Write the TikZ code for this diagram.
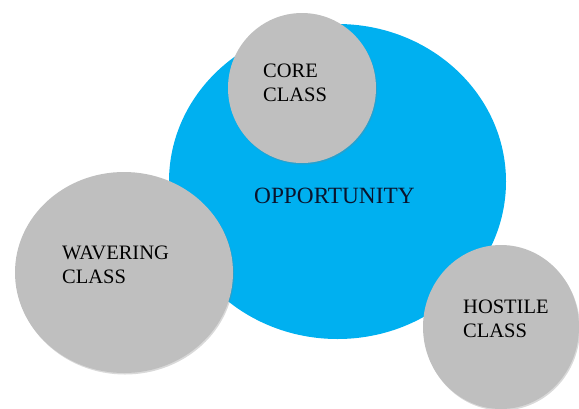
\documentclass[tikz,border=0pt]{standalone}
\usepackage{fontspec}
\setmainfont{Liberation Serif}
\usetikzlibrary{shapes.geometric, shadows}

\definecolor{oppblue}{RGB}{0,176,240}
\definecolor{discgray}{RGB}{191,191,191}
\definecolor{inkblue}{RGB}{10,20,45}

\begin{document}
\begin{tikzpicture}[x=1pt, y=-1pt,
    blob/.style={ellipse, draw=none, fill=#1, inner sep=0pt},
    graydisc/.style={blob=discgray, drop shadow={shadow xshift=1pt, shadow yshift=-1.5pt, opacity=0.3}},
    tag/.style={anchor=north west, inner sep=0pt, align=left, text=black,
        font=\fontsize{20.5}{24}\selectfont}]
    \useasboundingbox (0,0) rectangle (579,408);
    \clip (0,0) rectangle (579,408);
    % the big disc first, the classes on top
    \node[blob=oppblue, minimum width=337, minimum height=315] (opp) at (337.5,181.5) {};
    \node[graydisc, minimum width=148, minimum height=150] (core) at (302,88) {};
    \node[graydisc, minimum width=218, minimum height=201] (waver) at (124,272.5) {};
    \node[graydisc, minimum width=156, minimum height=164] (hostile) at (501,327) {};
    % labels
    \node[tag, text=inkblue, font=\fontsize{23.3}{27}\selectfont] (opptext) at (254,188) {OPPORTUNITY};
    \node[tag] (coretext) at (263,64) {CORE\\CLASS};
    \node[tag] (wavertext) at (62,246) {WAVERING\\CLASS};
    \node[tag] (hostiletext) at (463,300) {HOSTILE\\CLASS};
\end{tikzpicture}
\end{document}
